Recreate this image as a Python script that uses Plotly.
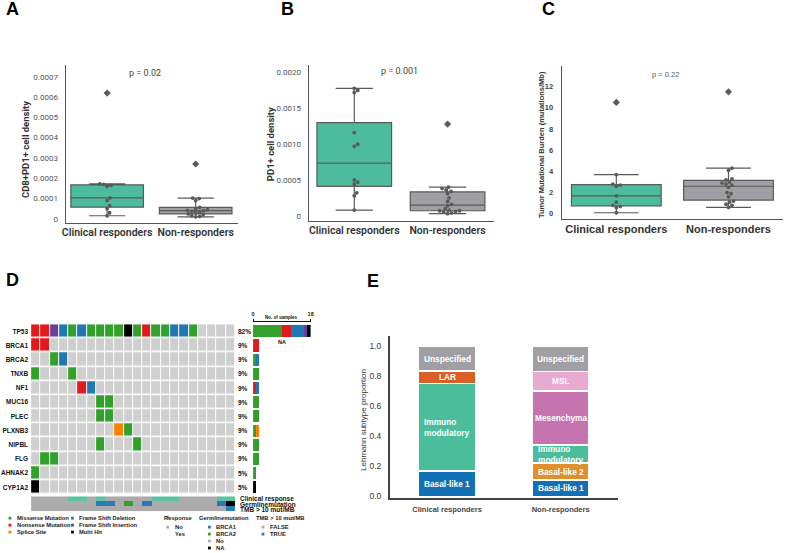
import numpy as np
import plotly.graph_objects as go

W, H = 786, 553
def fx(p): return p / W
def fy(p): return 1 - p / H

groups = ["Clinical responders", "Non-responders"]

# ---------------- Panel A: CD8+PD1+ cell density ----------------
cd8pd1_responders = [0.000015, 0.00003, 0.00005, 0.000065, 0.00009, 0.000103,
                     0.00016, 0.000165, 0.00017, 0.000172, 0.00062]
cd8pd1_nonresponders = [0.00001, 0.000012, 0.000015, 0.00002, 0.000024, 0.00003,
                        0.000033, 0.000037, 0.00004, 0.000042, 0.000045, 0.00005,
                        0.000056, 0.00009, 0.0001, 0.000102, 0.00027]
# ---------------- Panel B: PD1+ cell density ----------------
pd1_responders = [0.00008, 0.00028, 0.00032, 0.00044, 0.00047, 0.0005,
                  0.00097, 0.001, 0.00116, 0.00172, 0.00175, 0.00178]
pd1_nonresponders = [0.00003, 0.00004, 0.00005, 0.00006, 0.00007, 0.00007,
                     0.00008, 0.0001, 0.00014, 0.00016, 0.0002, 0.00025,
                     0.00031, 0.00034, 0.00036, 0.00038, 0.0004, 0.00128]
# ---------------- Panel C: TMB ----------------
tmb_responders = [0.1, 0.6, 0.7, 0.8, 1.1, 1.7, 2.6, 2.7, 2.8, 3.7, 10.5]
tmb_nonresponders = [0.6, 0.8, 0.9, 1.1, 1.2, 1.6, 1.9, 2.0, 2.5, 2.7, 2.8,
                     2.9, 3.0, 3.2, 3.3, 4.1, 4.3, 11.5]
p_values = ["p = 0.02", "p = 0.001", "p = 0.22"]

# ---------------- Panel D: oncoplot ----------------
genes = ["TP53", "BRCA1", "BRCA2", "TNXB", "NF1", "MUC16", "PLEC", "PLXNB3",
         "NIPBL", "FLG", "AHNAK2", "CYP1A2"]
# M missense, N nonsense, S splice, D frame-shift del, I frame-shift ins, H multi hit, . none
mut_TP53   = "NNIDMDMMMMHMNMMDDM...."
mut_BRCA1  = "NN...................."
mut_BRCA2  = "..MD.................."
mut_TNXB   = "M...M................."
mut_NF1    = ".....ND..............."
mut_MUC16  = ".......MM............."
mut_PLEC   = ".......MM............."
mut_PLXNB3 = ".........SM..........."
mut_NIPBL  = ".......M...M.........."
mut_FLG    = ".MM..................."
mut_AHNAK2 = "M....................."
mut_CYP1A2 = "H....................."
clinical_response = "....YY.Y.....YYY....YY"   # Y yes, . no
germline_mutation = "nnnnnnn11n2n1nnnnnnn1x"   # 1 BRCA1, 2 BRCA2, n No, x NA
tmb_high          = "FFFFFFFFFFFFFFFFFFFFFT"   # T TRUE, F FALSE
mut_types = ["M", "N", "S", "D", "I", "H"]
mut_names = ["Missense Mutation", "Nonsense Mutation", "Splice Site",
             "Frame Shift Deletion", "Frame Shift Insertion", "Multi Hit"]
mut_colors = {".": "#cfcfcf", "M": "#33a02c", "N": "#e31a1c", "S": "#ff7f00",
              "D": "#1f78b4", "I": "#6a3d9a", "H": "#000000"}

# ---------------- Panel E: Lehmann subtypes ----------------
subtypes = ["Basal-like 1", "Basal-like 2", "Immuno modulatory", "Mesenchymal",
            "MSL", "LAR", "Unspecified"]
subtype_labels = ["Basal-like 1", "Basal-like 2", "Immuno<br>modulatory",
                  "Mesenchyma", "MSL", "LAR", "Unspecified"]
subtype_colors = ["#1170b6", "#e08f2a", "#4cbd9b", "#c674b0", "#e9aad0",
                  "#d95f27", "#a0a0a4"]
prop_responders = [0.167, 0.0, 0.583, 0.0, 0.0, 0.083, 0.167]
prop_nonresponders = [0.11, 0.11, 0.12, 0.36, 0.13, 0.0, 0.17]

TEAL = "#4cbc9c"
GRAY = "#a0a0a4"
DARK = "#5a5a5a"
ARIAL = "Liberation Sans, Arial"
ROBOTO = "Roboto, Liberation Sans"

fig = go.Figure()


def swarm_offsets(vals, sy, sx, d):
    vals = np.asarray(vals, float)
    order = np.argsort(vals)
    placed = []
    offs = np.zeros(len(vals))
    for i in order:
        yp = vals[i] * sy
        best = None
        for k in range(0, 400):
            for sgn in ([0] if k == 0 else [1, -1]):
                xo = sgn * k * 0.5
                if all((xo - px) ** 2 + (yp - py) ** 2 >= d * d for px, py in placed):
                    best = xo
                    break
            if best is not None:
                break
        placed.append((best, yp))
        offs[i] = best / sx
    return offs


def add_box_panel(idx, data_list, colors, box_w, yrange, dom_px_y, dom_px_x, xrange):
    xa = "x" if idx == 1 else f"x{idx}"
    ya = "y" if idx == 1 else f"y{idx}"
    sy = (dom_px_y[1] - dom_px_y[0]) / (yrange[1] - yrange[0])
    sx = (dom_px_x[1] - dom_px_x[0]) / (xrange[1] - xrange[0])
    for pos, (vals, col) in enumerate(zip(data_list, colors)):
        v = np.asarray(vals, float)
        q1, med, q3 = np.percentile(v, [25, 50, 75])
        iqr = q3 - q1
        inside = v[(v >= q1 - 1.5 * iqr) & (v <= q3 + 1.5 * iqr)]
        lo, hi = inside.min(), inside.max()
        out = v[(v < lo) | (v > hi)]
        fig.add_trace(go.Box(x=[pos], q1=[q1], median=[med], q3=[q3],
                             lowerfence=[lo], upperfence=[hi], width=box_w,
                             fillcolor=col, line=dict(color=DARK, width=1.2),
                             whiskerwidth=0.5, boxpoints=False, showlegend=False,
                             xaxis=xa, yaxis=ya, hoverinfo="skip"))
        offs = swarm_offsets(v, sy, sx, 3.8)
        fig.add_trace(go.Scatter(x=pos + offs, y=v, mode="markers",
                                 marker=dict(size=3.8, color=DARK),
                                 showlegend=False, xaxis=xa, yaxis=ya))
        if len(out):
            fig.add_trace(go.Scatter(x=[pos] * len(out), y=out, mode="markers",
                                     marker=dict(size=5.5, color=DARK, symbol="diamond"),
                                     showlegend=False, xaxis=xa, yaxis=ya))


# Panel A
A_yr = [-0.0000196, 0.00076]
A_xr = [-0.47, 1.48]
add_box_panel(1, [cd8pd1_responders, cd8pd1_nonresponders], [TEAL, GRAY], 0.82,
              A_yr, (65, 224), (63, 237), A_xr)
# Panel B
B_yr = [-0.00007, 0.00211]
B_xr = [-0.489, 1.50]
add_box_panel(2, [pd1_responders, pd1_nonresponders], [TEAL, GRAY], 0.8,
              B_yr, (65, 222), (308, 495), B_xr)
# Panel C
C_yr = [-0.47, 13.97]
C_xr = [-0.487, 1.486]
add_box_panel(3, [tmb_responders, tmb_nonresponders], [TEAL, GRAY], 0.8,
              C_yr, (66, 220), (563, 786), C_xr)

# ---------------- Panel D heatmap ----------------
rows = [mut_TP53, mut_BRCA1, mut_BRCA2, mut_TNXB, mut_NF1, mut_MUC16, mut_PLEC,
        mut_PLXNB3, mut_NIPBL, mut_FLG, mut_AHNAK2, mut_CYP1A2]
codes = ["."] + mut_types
z = [[codes.index(c) for c in r] for r in rows]
nc = len(codes)
cs = []
for i, c in enumerate(codes):
    cs.append([i / nc, mut_colors[c]])
    cs.append([(i + 1) / nc, mut_colors[c]])
ncol = len(mut_TP53)
fig.add_trace(go.Heatmap(z=z, x=list(range(ncol)), y=list(range(len(genes))),
                         colorscale=cs, zmin=-0.5, zmax=nc - 0.5, showscale=False,
                         xgap=1, ygap=1.6, xaxis="x4", yaxis="y4", hoverinfo="skip"))

# annotation tracks
ann_colors = ["#ababab", "#5cc4a4", "#2a7ab8", "#33a02c", "#000000"]
resp_code = {".": 0, "Y": 1}
germ_code = {"n": 0, "1": 2, "2": 3, "x": 4}
tmb_code = {"F": 0, "T": 2}
za = [[resp_code[c] for c in clinical_response],
      [germ_code[c] for c in germline_mutation],
      [tmb_code[c] for c in tmb_high]]
na = len(ann_colors)
csa = []
for i, c in enumerate(ann_colors):
    csa.append([i / na, c])
    csa.append([(i + 1) / na, c])
fig.add_trace(go.Heatmap(z=za, x=list(range(ncol)), y=[0, 1, 2], colorscale=csa,
                         zmin=-0.5, zmax=na - 0.5, showscale=False,
                         xaxis="x5", yaxis="y5", hoverinfo="skip"))

# side bar chart
for t, name in zip(["M", "N", "S", "D", "I", "H"], mut_names):
    counts = [r.count(t) for r in rows]
    fig.add_trace(go.Bar(y=list(range(len(genes))), x=counts, orientation="h",
                         marker=dict(color=mut_colors[t], line=dict(width=0)),
                         width=0.85, showlegend=False, xaxis="x6", yaxis="y6",
                         hoverinfo="skip"))

# ---------------- Panel E stacked bars ----------------
for k in range(len(subtypes)):
    fig.add_trace(go.Bar(x=[0, 1], y=[prop_responders[k], prop_nonresponders[k]],
                         marker=dict(color=subtype_colors[k],
                                     line=dict(color="white", width=1.6)),
                         width=0.5, showlegend=False, xaxis="x7", yaxis="y7",
                         hoverinfo="skip"))

annotations = []
for gi, props in enumerate([prop_responders, prop_nonresponders]):
    cum = 0.0
    for k, p in enumerate(props):
        if p > 0:
            annotations.append(dict(x=gi, y=cum + p / 2, xref="x7", yref="y7",
                                    text=f"<b>{subtype_labels[k]}</b>", showarrow=False,
                                    align="left",
                                    font=dict(family=ARIAL, size=8.3, color="white")))
        cum += p

# ---------------- axes ----------------
common = dict(showgrid=False, zeroline=False)
tickA = [0, 0.0001, 0.0002, 0.0003, 0.0004, 0.0005, 0.0006, 0.0007]
tickB = [0, 0.0005, 0.001, 0.0015, 0.002]
tickC = [0, 2, 4, 6, 8, 10, 12]
cat_font = dict(family=ROBOTO, size=10.5, color="#333", weight=600)

layout = dict(
    width=W, height=H, margin=dict(l=0, r=0, t=0, b=0),
    paper_bgcolor="white", plot_bgcolor="white", barmode="stack",
    showlegend=False,
    xaxis=dict(domain=[fx(63), fx(237)], range=A_xr, tickvals=[0, 1], ticktext=groups,
               showline=True, linecolor="#555", linewidth=1, ticks="",
               tickfont=cat_font, anchor="y", **common),
    yaxis=dict(domain=[fy(224), fy(65)], range=A_yr, tickvals=tickA,
               ticktext=["0"] + [f"{v:.4f}" for v in tickA[1:]],
               showline=True, linecolor="#555", linewidth=1, ticks="",
               ticklabelstandoff=5,
               tickfont=dict(family=ROBOTO, size=8, color="#555"), anchor="x", **common),
    xaxis2=dict(domain=[fx(308), fx(495)], range=B_xr, tickvals=[0, 1], ticktext=groups,
                showline=True, linecolor="#555", linewidth=1, ticks="",
                tickfont=cat_font, anchor="y2", **common),
    yaxis2=dict(domain=[fy(222), fy(65)], range=B_yr, tickvals=tickB,
                ticktext=["0"] + [f"{v:.4f}" for v in tickB[1:]],
                showline=True, linecolor="#555", linewidth=1, ticks="",
                ticklabelstandoff=5,
                tickfont=dict(family=ROBOTO, size=8, color="#555"), anchor="x2", **common),
    xaxis3=dict(domain=[fx(563), 1.0], range=C_xr, tickvals=[0, 1], ticktext=groups,
                showline=True, linecolor="#555", linewidth=1, ticks="",
                tickfont=dict(family=ARIAL, size=11, color="#333", weight=600),
                anchor="y3", **common),
    yaxis3=dict(domain=[fy(220), fy(66)], range=C_yr, tickvals=tickC,
                showline=True, linecolor="#555", linewidth=1, ticks="",
                ticklabelstandoff=6,
                tickfont=dict(family=ARIAL, size=7.5, color="#444", weight="bold"),
                anchor="x3", **common),
    xaxis4=dict(domain=[fx(28.3), fx(233.7)], range=[-0.5, ncol - 0.5], visible=False,
                anchor="y4", **common),
    yaxis4=dict(domain=[fy(497), fy(326)], range=[len(genes) - 0.5, -0.5],
                tickvals=list(range(len(genes))), ticktext=genes, ticks="",
                showline=False, ticklabelstandoff=2,
                tickfont=dict(family=ARIAL, size=6.5, color="#111", weight="bold"),
                anchor="x4", **common),
    xaxis5=dict(domain=[fx(28.3), fx(233.7)], range=[-0.5, ncol - 0.5], visible=False,
                anchor="y5", **common),
    yaxis5=dict(domain=[fy(514), fy(499)], range=[2.5, -0.5], visible=False,
                anchor="x5", **common),
    xaxis6=dict(domain=[fx(252), fx(310)], range=[0, 18], side="top", anchor="free",
                position=fy(323), tickvals=[0, 18], ticks="outside", ticklen=2,
                tickcolor="#111", showline=True, linecolor="#111", linewidth=1,
                ticklabelstandoff=1,
                tickfont=dict(family=ARIAL, size=5.5, color="#111", weight="bold"),
                **common),
    yaxis6=dict(domain=[fy(497), fy(326)], range=[len(genes) - 0.5, -0.5],
                visible=False, anchor="x6", **common),
    xaxis7=dict(domain=[fx(390), fx(620)], range=[-0.502, 1.507], tickvals=[0, 1],
                ticktext=groups, showline=True, linecolor="#444", linewidth=2,
                ticks="", ticklabelstandoff=3,
                tickfont=dict(family=ARIAL, size=7.5, color="#444", weight="bold"),
                anchor="y7", **common),
    yaxis7=dict(domain=[fy(501), fy(338)], range=[-0.013, 1.066],
                tickvals=[0, 0.2, 0.4, 0.6, 0.8, 1.0],
                ticktext=[f"{v:.1f}" for v in [0, 0.2, 0.4, 0.6, 0.8, 1.0]],
                showline=True, linecolor="#444", linewidth=2, ticks="",
                ticklabelstandoff=5,
                tickfont=dict(family=ARIAL, size=8.5, color="#333"),
                anchor="x7", **common),
)


def txt(x, y, s, size, color="#111", bold=False, family=ARIAL, angle=0, xanchor="center",
        yanchor="middle"):
    annotations.append(dict(x=fx(x), y=fy(y), xref="paper", yref="paper",
                            text=(f"<b>{s}</b>" if bold else s), showarrow=False,
                            textangle=angle, xanchor=xanchor, yanchor=yanchor,
                            font=dict(family=family, size=size, color=color)))


# panel letters
for L, x, y in [("A", 10, 9), ("B", 287, 9), ("C", 550, 9), ("D", 10, 282), ("E", 373, 283)]:
    txt(x, y, L, 18, "#000", bold=True)

# y titles
txt(22, 150, "CD8+PD1+ cell density", 9.5, "#333", bold=True, family=ROBOTO, angle=-90)
txt(269, 145, "PD1+ cell density", 9.5, "#333", bold=True, family=ROBOTO, angle=-90)
txt(542, 145, "Tumor Mutational Burden (mutations/Mb)", 7.5, "#333", bold=True, angle=-90)
txt(363, 422, "Lehmann subtype proportion", 8, "#333", angle=-90)

# p values
txt(143, 73, p_values[0], 9, "#444", family=ROBOTO)
txt(400, 71, p_values[1], 9, "#444", family=ROBOTO)
txt(668, 75, p_values[2], 7.5, "#555")

# oncoplot percentages
for i, r in enumerate(rows):
    pct = round(100 * sum(c != "." for c in r) / ncol)
    annotations.append(dict(x=fx(235), y=i, xref="paper", yref="y4", text=f"<b>{pct}%</b>",
                            showarrow=False, xanchor="left",
                            font=dict(family=ARIAL, size=6.5, color="#111")))
txt(281, 319, "No. of samples", 4.5, "#111", bold=True)
txt(281, 344, "NA", 5.5, "#111", bold=True)

# annotation track labels
txt(237, 502, "Clinical response", 6.5, "#111", bold=True, xanchor="left")
txt(237, 507, "Germlinemutation", 6.5, "#111", bold=True, xanchor="left")
txt(237, 512.5, "TMB > 10 mut/MB", 6.5, "#111", bold=True, xanchor="left")

# oncoplot legend
shapes = []


def sq(x, y, color):
    shapes.append(dict(type="rect", xref="paper", yref="paper",
                       x0=fx(x - 1.4), x1=fx(x + 1.4), y0=fy(y + 1.4), y1=fy(y - 1.4),
                       fillcolor=color, line=dict(width=0)))


leg_rows = [521, 528, 535]
for i, t in enumerate(["M", "N", "S"]):
    sq(7, leg_rows[i], mut_colors[t])
    txt(12, leg_rows[i], mut_names[mut_types.index(t)], 5.8, "#222", bold=True, xanchor="left")
for i, t in enumerate(["D", "I", "H"]):
    sq(70, leg_rows[i], mut_colors[t])
    txt(75, leg_rows[i], mut_names[mut_types.index(t)], 5.8, "#222", bold=True, xanchor="left")

txt(160, 521, "Response", 5.8, "#222", bold=True, xanchor="left")
sq(166, 520, ann_colors[1])
sq(166, 530, ann_colors[0])
txt(171, 530, "No", 5.8, "#222", bold=True, xanchor="left")
txt(171, 537, "Yes", 5.8, "#222", bold=True, xanchor="left")

txt(195, 521, "Germlinemutation", 5.8, "#222", bold=True, xanchor="left")
for i, (lab, col) in enumerate([("BRCA1", ann_colors[2]), ("BRCA2", ann_colors[3]),
                                ("No", ann_colors[0]), ("NA", ann_colors[4])]):
    sq(208, 530 + 7 * i, col)
    txt(213, 530 + 7 * i, lab, 5.8, "#222", bold=True, xanchor="left")

txt(253, 521, "TMB > 10 mut/MB", 5.8, "#222", bold=True, xanchor="left")
for i, (lab, col) in enumerate([("FALSE", ann_colors[0]), ("TRUE", ann_colors[2])]):
    sq(262, 530 + 7 * i, col)
    txt(267, 530 + 7 * i, lab, 5.8, "#222", bold=True, xanchor="left")

layout["annotations"] = annotations
layout["shapes"] = shapes
fig.update_layout(**layout)
fig.write_html("out.html", config={"displayModeBar": False},
               post_script="document.body.style.margin='0';"
                           "document.body.style.overflow='hidden';")
